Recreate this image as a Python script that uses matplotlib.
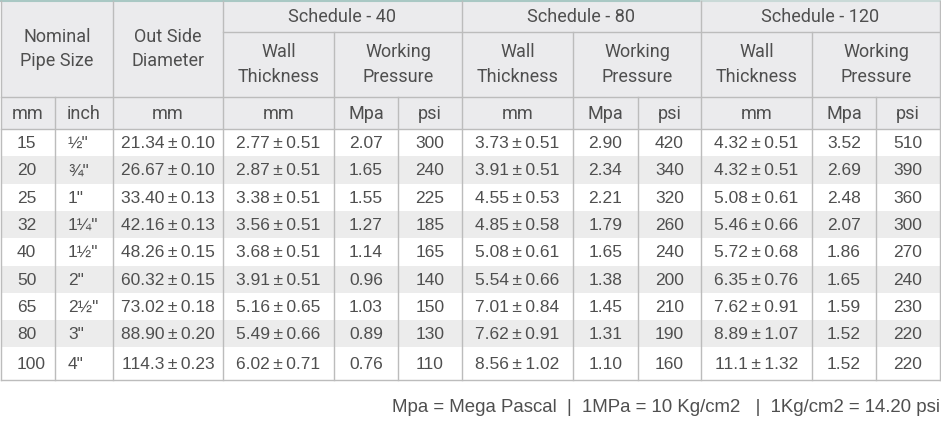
import matplotlib
matplotlib.use("Agg")
import matplotlib.pyplot as plt
from matplotlib.patches import Rectangle

# ---------------- data ----------------
nominal_mm = ["15", "20", "25", "32", "40", "50", "65", "80", "100"]
nominal_inch = ['½"', '¾"', '1"', '1¼"', '1½"', '2"', '2½"', '3"', '4"']
outside_diameter = ["21.34±0.10", "26.67±0.10", "33.40±0.13", "42.16±0.13", "48.26±0.15",
                    "60.32±0.15", "73.02±0.18", "88.90±0.20", "114.3±0.23"]
sch40_wall = ["2.77±0.51", "2.87±0.51", "3.38±0.51", "3.56±0.51", "3.68±0.51",
              "3.91±0.51", "5.16±0.65", "5.49±0.66", "6.02±0.71"]
sch40_mpa = ["2.07", "1.65", "1.55", "1.27", "1.14", "0.96", "1.03", "0.89", "0.76"]
sch40_psi = ["300", "240", "225", "185", "165", "140", "150", "130", "110"]
sch80_wall = ["3.73±0.51", "3.91±0.51", "4.55±0.53", "4.85±0.58", "5.08±0.61",
              "5.54±0.66", "7.01±0.84", "7.62±0.91", "8.56±1.02"]
sch80_mpa = ["2.90", "2.34", "2.21", "1.79", "1.65", "1.38", "1.45", "1.31", "1.10"]
sch80_psi = ["420", "340", "320", "260", "240", "200", "210", "190", "160"]
sch120_wall = ["4.32±0.51", "4.32±0.51", "5.08±0.61", "5.46±0.66", "5.72±0.68",
               "6.35±0.76", "7.62±0.91", "8.89±1.07", "11.1±1.32"]
sch120_mpa = ["3.52", "2.69", "2.48", "2.07", "1.86", "1.65", "1.59", "1.52", "1.52"]
sch120_psi = ["510", "390", "360", "300", "270", "240", "230", "220", "220"]

group_titles = ["Schedule - 40", "Schedule - 80", "Schedule - 120"]
sub_titles = ["Wall\nThickness", "Working\nPressure"]
unit_titles = ["mm", "inch", "mm", "mm", "Mpa", "psi", "mm", "Mpa", "psi", "mm", "Mpa", "psi"]
footer = "Mpa = Mega Pascal  |  1MPa = 10 Kg/cm2   |  1Kg/cm2 = 14.20 psi"

columns = [nominal_mm, nominal_inch, outside_diameter,
           sch40_wall, sch40_mpa, sch40_psi,
           sch80_wall, sch80_mpa, sch80_psi,
           sch120_wall, sch120_mpa, sch120_psi]

# ---------------- layout ----------------
W, H = 941, 426
fig = plt.figure(figsize=(W / 100, H / 100), dpi=100)
ax = fig.add_axes([0, 0, 1, 1])
ax.set_xlim(0, W)
ax.set_ylim(H, 0)
ax.axis("off")

xe = [1, 55, 113, 223, 334, 398, 462, 573, 638, 701, 812, 876, 940]
y_top, y_grp, y_sub, y_unit = 0.5, 32, 97, 129
y_bot = 380
n = len(nominal_mm)
row_h = 27.3
row_edges = [y_unit + i * row_h for i in range(n)] + [y_bot]

header_bg = "#ebebed"
shade = "#ececec"
line_c = "#bcbcbc"
txt_c = "#4f4f4f"
hdr_font = ["Roboto", "DejaVu Sans"]
body_font = ["Liberation Sans", "DejaVu Sans"]
lw = 1.0

# backgrounds
ax.add_patch(Rectangle((xe[0], y_top), xe[-1] - xe[0], y_unit - y_top, fc=header_bg, ec="none"))
for i in range(n):
    if i % 2 == 1:
        ax.add_patch(Rectangle((xe[0], row_edges[i]), xe[-1] - xe[0],
                               row_edges[i + 1] - row_edges[i], fc=shade, ec="none"))

# horizontal lines
ax.plot([xe[3], xe[-1]], [y_grp, y_grp], color=line_c, lw=lw)
for y in (y_sub, y_unit, y_bot):
    ax.plot([xe[0], xe[-1]], [y, y], color=line_c, lw=lw)
ax.plot([xe[0], xe[9]], [y_top, y_top], color="#a9c8c4", lw=1.5)
ax.plot([xe[9], xe[-1]], [y_top, y_top], color="#c9d9d7", lw=1.5)

# vertical lines: (x index, start y)
full = [0, 2, 3, 6, 9, 12]
from_grp = [4, 7, 10]
from_sub = [1, 5, 8, 11]
for i in full:
    ax.plot([xe[i], xe[i]], [y_top, y_bot], color=line_c, lw=lw)
for i in from_grp:
    ax.plot([xe[i], xe[i]], [y_grp, y_bot], color=line_c, lw=lw)
for i in from_sub:
    ax.plot([xe[i], xe[i]], [y_sub, y_bot], color=line_c, lw=lw)

# header texts
hs = 13
ls = 1.45
ax.text((xe[0] + xe[2]) / 2, (y_top + y_sub) / 2 + 0.5, "Nominal\nPipe Size", ha="center", va="center",
        fontsize=hs, family=hdr_font, color=txt_c, linespacing=ls)
ax.text((xe[2] + xe[3]) / 2, (y_top + y_sub) / 2 + 0.5, "Out Side\nDiameter", ha="center", va="center",
        fontsize=hs, family=hdr_font, color=txt_c, linespacing=ls)
for g, title in enumerate(group_titles):
    x0, x1 = xe[3 + 3 * g], xe[6 + 3 * g]
    ax.text((x0 + x1) / 2, (y_top + y_grp) / 2 + 1, title, ha="center", va="center",
            fontsize=hs, family=hdr_font, color=txt_c)
    ax.text((xe[3 + 3 * g] + xe[4 + 3 * g]) / 2, (y_grp + y_sub) / 2, sub_titles[0],
            ha="center", va="center", fontsize=hs, family=hdr_font, color=txt_c, linespacing=ls)
    ax.text((xe[4 + 3 * g] + xe[6 + 3 * g]) / 2, (y_grp + y_sub) / 2, sub_titles[1],
            ha="center", va="center", fontsize=hs, family=hdr_font, color=txt_c, linespacing=ls)
for j, u in enumerate(unit_titles):
    ax.text((xe[j] + xe[j + 1]) / 2, (y_sub + y_unit) / 2 + 1, u, ha="center", va="center",
            fontsize=hs, family=hdr_font, color=txt_c)

# body texts
bs = 12.5
for j, col in enumerate(columns):
    for i, val in enumerate(col):
        yc = (row_edges[i] + row_edges[i + 1]) / 2 + 1
        shown = val.replace("±", "\u2009±\u2009")
        if j == 0:
            ax.text(xe[0] + 16, yc, shown, ha="left", va="center", fontsize=bs,
                    family=body_font, color=txt_c)
        elif j == 1:
            ax.text(xe[1] + 13, yc, shown, ha="left", va="center", fontsize=bs,
                    family=body_font, color=txt_c)
        else:
            ax.text((xe[j] + xe[j + 1]) / 2, yc, shown, ha="center", va="center", fontsize=bs,
                    family=body_font, color=txt_c)

ax.text(xe[-1], 407, footer, ha="right", va="center", fontsize=13.4,
        family=body_font, color=txt_c)

fig.savefig("out.png", dpi=100, facecolor="white")
